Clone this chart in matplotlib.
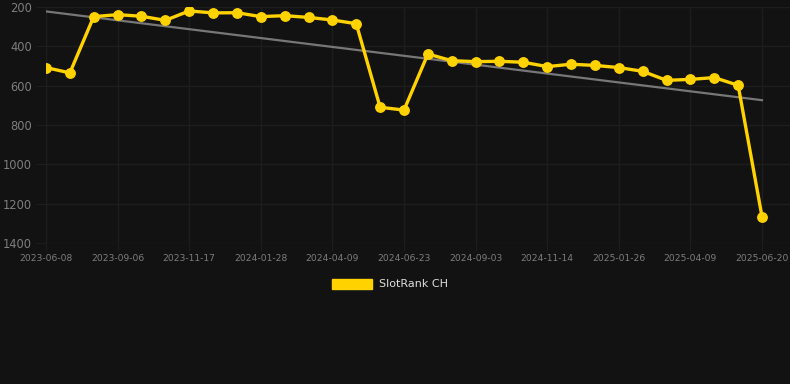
import numpy as np
import matplotlib
matplotlib.use('Agg')
import matplotlib.pyplot as plt
from matplotlib.patches import Patch

# data
dates = ['2023-06-08', '2023-07-08', '2023-08-07', '2023-09-06', '2023-09-30', '2023-10-24',
         '2023-11-17', '2023-12-11', '2024-01-04', '2024-01-28', '2024-02-21', '2024-03-16',
         '2024-04-09', '2024-05-04', '2024-05-29', '2024-06-23', '2024-07-17', '2024-08-10',
         '2024-09-03', '2024-09-27', '2024-10-21', '2024-11-14', '2024-12-08', '2025-01-01',
         '2025-01-26', '2025-02-19', '2025-03-15', '2025-04-09', '2025-05-03', '2025-05-27',
         '2025-06-20']
rank = [508, 535, 249, 239, 247, 268, 220, 230, 229, 249, 244, 253, 266, 285, 710, 724,
        439, 473, 478, 476, 481, 503, 491, 497, 508, 527, 573, 568, 559, 598, 1266]
series_name = 'SlotRank CH'

bg = '#121212'
grid_c = '#1d1d1d'
text_c = '#7e7e7e'
gold = '#FFD200'

x = np.arange(len(rank))
slope, icpt = np.polyfit(x, rank, 1)

fig = plt.figure(figsize=(7.9, 3.84), dpi=100, facecolor=bg)
ax = fig.add_axes([46/790, 141/384, 744/790, 236/384], facecolor=bg)

ax.plot(x, slope*x + icpt, color='#777777', lw=1.6, zorder=2)
ax.plot(x, rank, color=gold, lw=2.4, marker='o', ms=6.8, zorder=3)

ax.set_ylim(1400, 200)
ax.set_yticks([200, 400, 600, 800, 1000, 1200, 1400])
ax.set_xlim(0, 30 + 28/23.87)
ax.set_xticks(x[::3])
ax.set_xticklabels(dates[::3])

ax.grid(True, color=grid_c, lw=1)
for s in ax.spines.values():
    s.set_visible(False)
ax.tick_params(axis='y', colors=grid_c, labelcolor=text_c, labelsize=8.3, length=7, pad=3)
ax.tick_params(axis='x', colors=grid_c, labelcolor=text_c, labelsize=6.6, length=6, pad=2)

leg = fig.legend(handles=[Patch(facecolor=gold, edgecolor=gold)], labels=[series_name],
                 loc='center', bbox_to_anchor=(0.5 - 5/790, 1 - 284/384), frameon=False,
                 handlelength=3.6, handleheight=1.0, fontsize=8, labelcolor='#dddddd',
                 handletextpad=0.6)

fig.savefig('out.png', dpi=100, facecolor=bg)
